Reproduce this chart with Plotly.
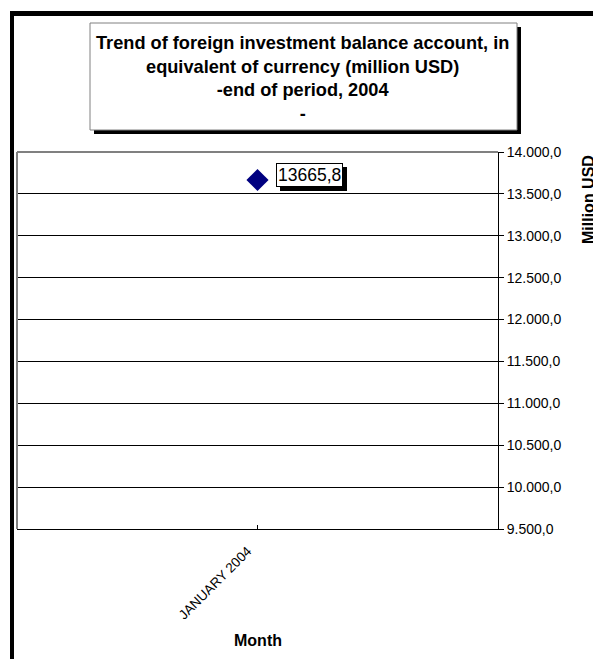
import plotly.graph_objects as go

categories = ["JANUARY 2004"]
values = [13665.8]
value_labels = ["13665,8"]
y_tickvals = [9500, 10000, 10500, 11000, 11500, 12000, 12500, 13000, 13500, 14000]
y_ticktext = ["9.500,0", "10.000,0", "10.500,0", "11.000,0", "11.500,0",
              "12.000,0", "12.500,0", "13.000,0", "13.500,0", "14.000,0"]

W, H = 593, 659
L, R, T, B = 17, 95, 152, 130
PW, PH = W - L - R, H - T - B


def px(x):
    return (x - L) / PW


def py(y):
    return (H - B - y) / PH


FONT = "Liberation Sans, Arial, sans-serif"

fig = go.Figure()
fig.add_trace(go.Scatter(
    x=categories, y=values, mode="markers",
    marker=dict(symbol="diamond", size=17, color="#000080", line=dict(width=0)),
    showlegend=False, hoverinfo="x+y",
))

shapes = []
# outer chart border (left & top visible)
shapes.append(dict(type="rect", xref="paper", yref="paper",
                   x0=px(10), x1=px(593), y0=py(16), y1=py(11),
                   fillcolor="black", line=dict(width=0), layer="above"))
shapes.append(dict(type="rect", xref="paper", yref="paper",
                   x0=px(10), x1=px(14), y0=py(659), y1=py(11),
                   fillcolor="black", line=dict(width=0), layer="above"))
# plot area top & left gray border
shapes.append(dict(type="line", xref="paper", yref="paper", x0=0, x1=1, y0=1, y1=1,
                   line=dict(color="#808080", width=2), layer="above"))
shapes.append(dict(type="line", xref="paper", yref="paper", x0=0, x1=0, y0=0, y1=1,
                   line=dict(color="#808080", width=2), layer="above"))
# title box shadow and box
shapes.append(dict(type="rect", xref="paper", yref="paper",
                   x0=px(94), x1=px(521), y0=py(134), y1=py(27),
                   fillcolor="black", line=dict(width=0), layer="above"))
shapes.append(dict(type="rect", xref="paper", yref="paper",
                   x0=px(90), x1=px(517), y0=py(130), y1=py(23),
                   fillcolor="white", line=dict(color="#808080", width=1), layer="above"))

annotations = []
annotations.append(dict(
    xref="paper", yref="paper", x=px(302), y=py(78), xanchor="center", yanchor="middle",
    text="<b>Trend of foreign investment balance account, in<br>equivalent of currency (million USD)<br>-end of period, 2004<br>-</b>",
    showarrow=False, align="center", font=dict(family=FONT, size=18.2, color="black"),
))
# data label shadow + label
for c, v, t in zip(categories, values, value_labels):
    annotations.append(dict(
        x=c, y=v, xref="x", yref="y", text=t, showarrow=False,
        xshift=56, yshift=1, bgcolor="black", bordercolor="black", borderwidth=1, borderpad=1,
        font=dict(family=FONT, size=17.5, color="black"),
    ))
    annotations.append(dict(
        x=c, y=v, xref="x", yref="y", text=t, showarrow=False,
        xshift=52, yshift=5, bgcolor="white", bordercolor="black", borderwidth=1, borderpad=1,
        font=dict(family=FONT, size=17.5, color="black"),
    ))
annotations.append(dict(
    xref="paper", yref="paper", x=px(588), y=py(200), text="<b>Million USD</b>",
    textangle=-90, showarrow=False, xanchor="center", yanchor="middle",
    font=dict(family=FONT, size=16, color="black"),
))
annotations.append(dict(
    xref="paper", yref="paper", x=px(258), y=py(640), text="<b>Month</b>",
    showarrow=False, xanchor="center", yanchor="middle",
    font=dict(family=FONT, size=16, color="black"),
))

fig.update_layout(
    width=W, height=H, margin=dict(l=L, r=R, t=T, b=B, pad=0),
    paper_bgcolor="white", plot_bgcolor="white",
    shapes=shapes, annotations=annotations,
    xaxis=dict(type="category", showgrid=False, showline=True, linecolor="black", linewidth=1,
               ticks="inside", ticklen=4, tickcolor="black", tickangle=-45,
               ticklabelstandoff=8, ticklabelshift=-10,
               tickfont=dict(family=FONT, size=13.5, color="black"), zeroline=False),
    yaxis=dict(side="right", range=[9500, 14000], tickvals=y_tickvals, ticktext=y_ticktext,
               showgrid=True, gridcolor="black", gridwidth=1, showline=True, linecolor="black",
               linewidth=1, ticks="outside", ticklen=5, tickcolor="black",
               tickfont=dict(family=FONT, size=14, color="black"), zeroline=False),
)

post = "document.body.style.margin='0';document.body.style.overflow='hidden';"
fig.write_html("out.html", config={"displayModeBar": False}, post_script=post)
